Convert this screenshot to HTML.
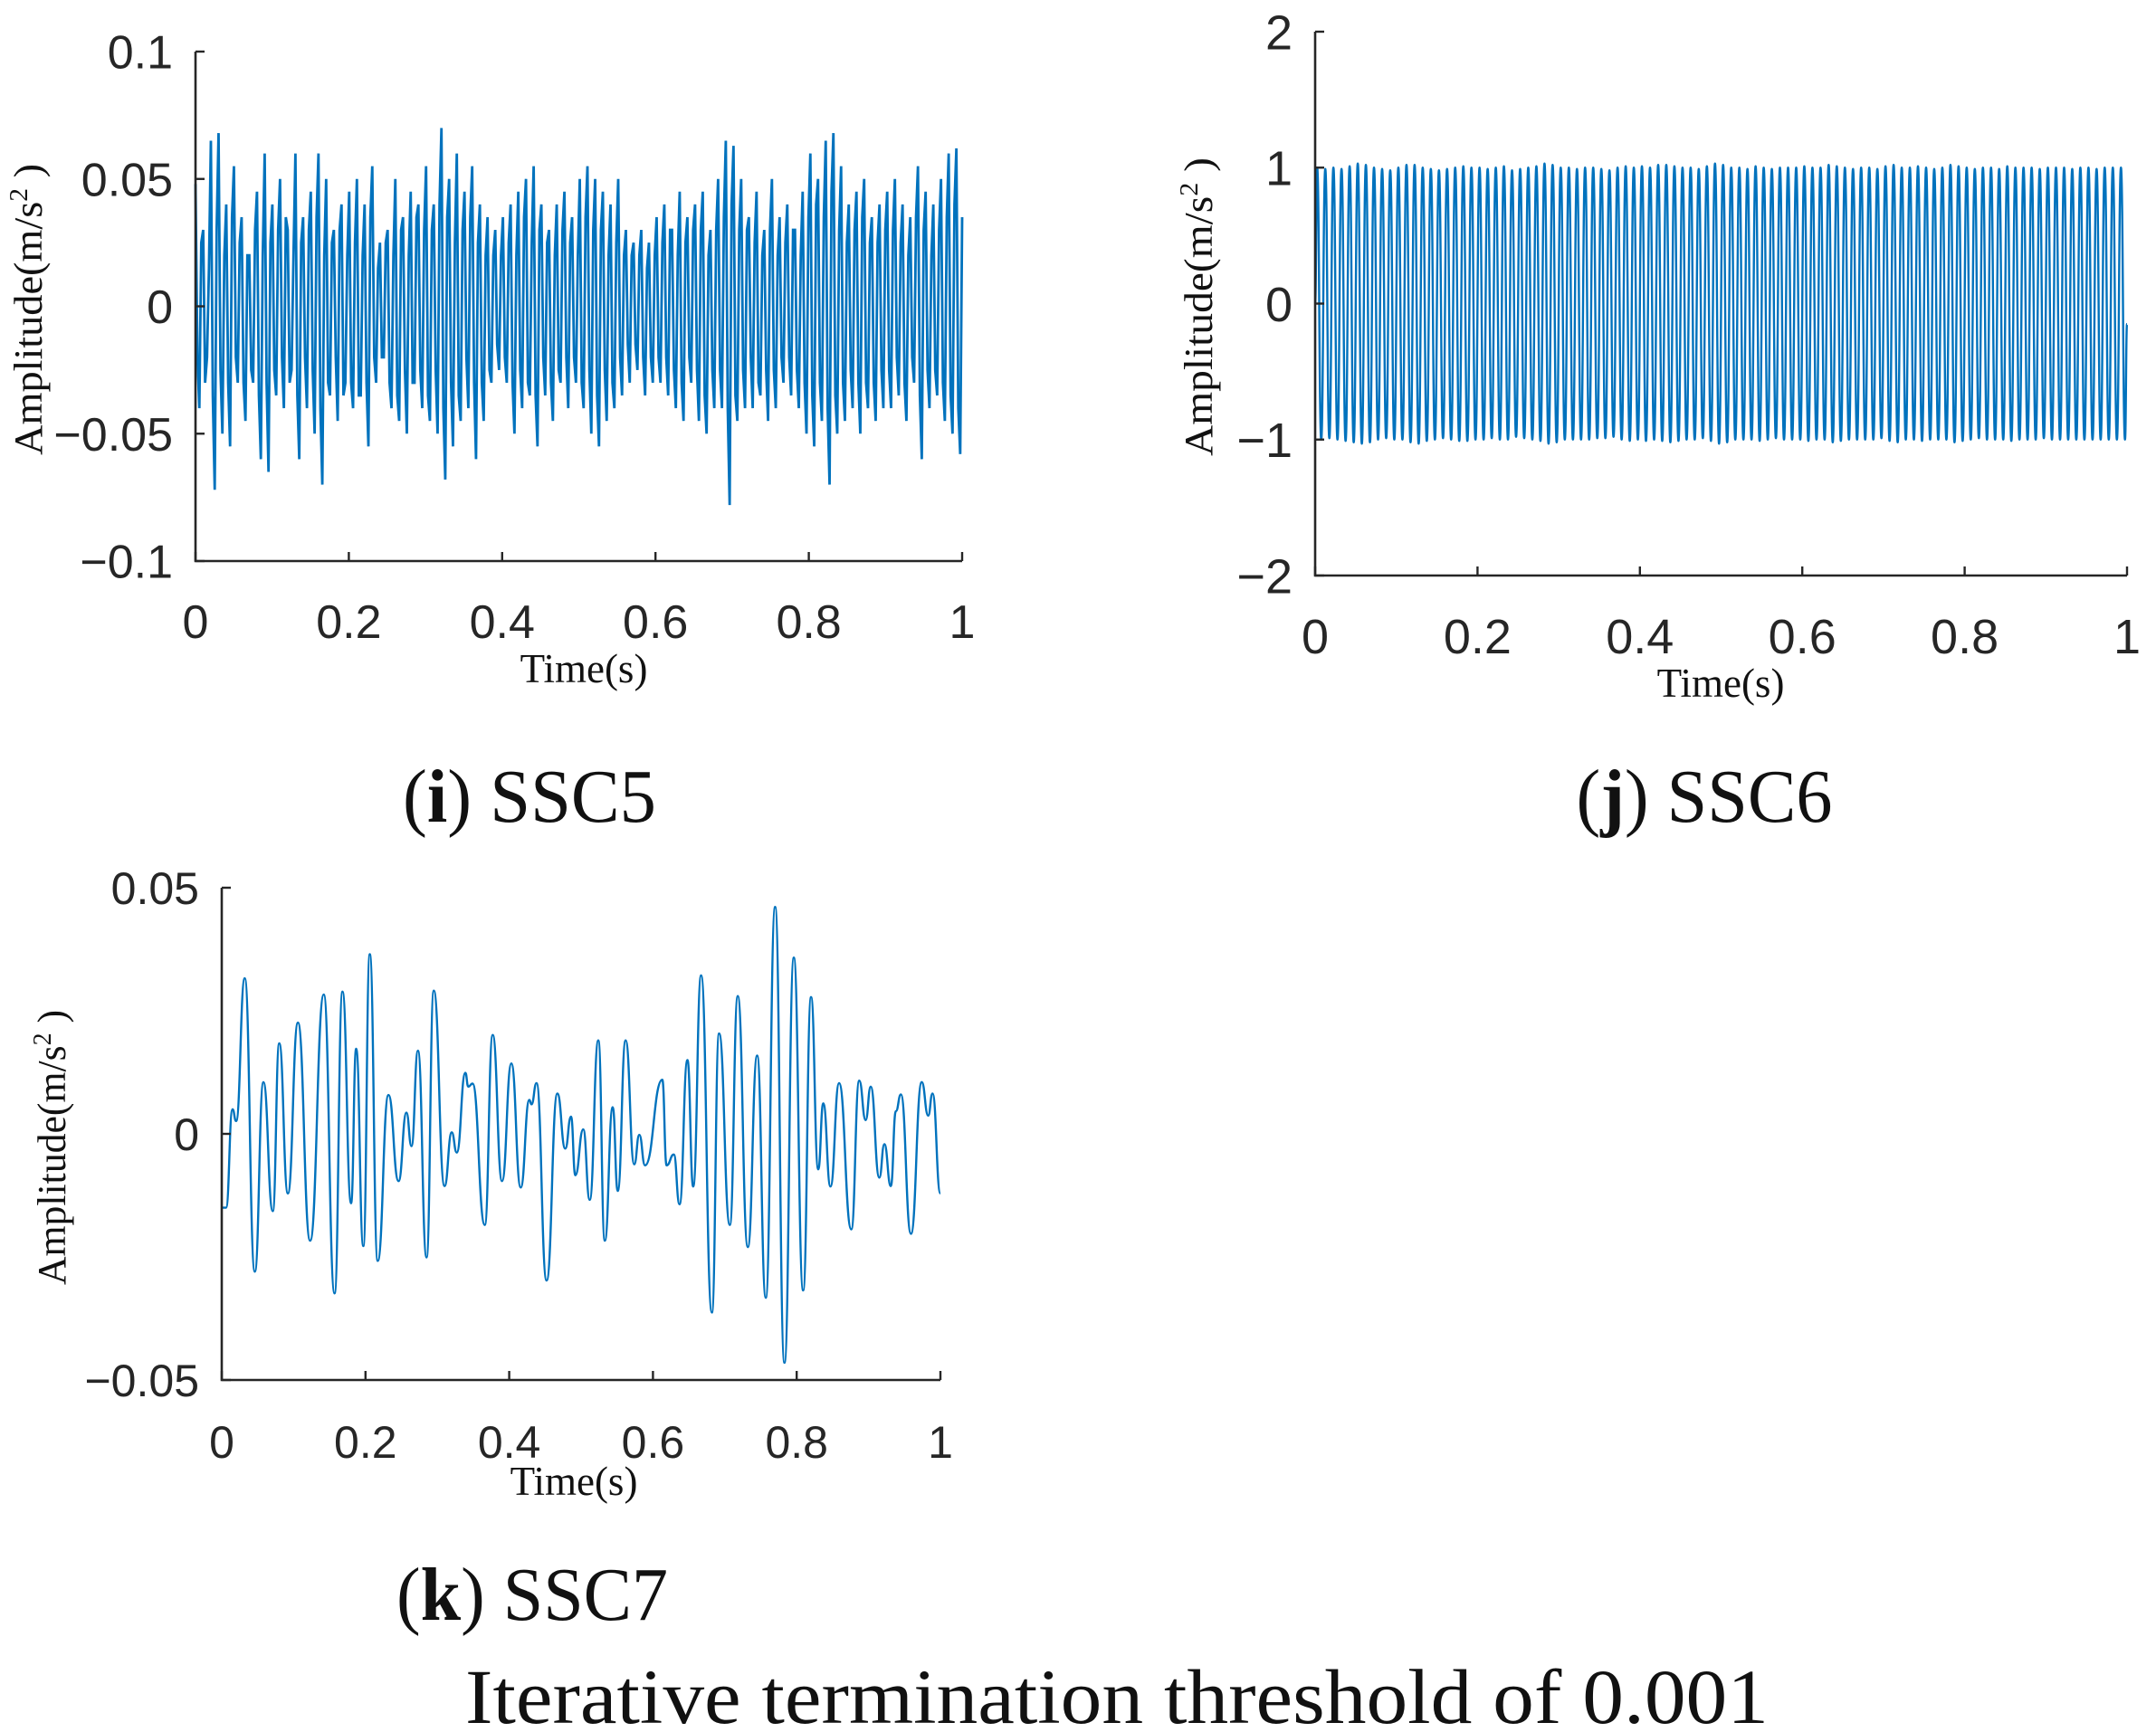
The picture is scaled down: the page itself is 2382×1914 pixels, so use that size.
<!DOCTYPE html>
<html><head><meta charset="utf-8"><style>
html,body{margin:0;padding:0;background:#fff}
svg{display:block}
.tk{font-family:"Liberation Sans",sans-serif;fill:#262626}
.sf{font-family:"Liberation Serif",serif;fill:#111}
</style></head><body>
<svg id="fig" width="2382" height="1914" viewBox="0 0 2382 1914" xmlns="http://www.w3.org/2000/svg">
<rect width="2382" height="1914" fill="#fff"/>
<text class="sf" x="585" y="908" font-size="84" text-anchor="middle" textLength="280" lengthAdjust="spacingAndGlyphs">(<tspan font-weight="bold">i</tspan>) SSC5</text>
<text class="sf" x="1883" y="908" font-size="84" text-anchor="middle" textLength="283" lengthAdjust="spacingAndGlyphs">(<tspan font-weight="bold">j</tspan>) SSC6</text>
<text class="sf" x="588" y="1790" font-size="84" text-anchor="middle" textLength="300" lengthAdjust="spacingAndGlyphs">(<tspan font-weight="bold">k</tspan>) SSC7</text>
<text class="sf" x="1234" y="1904" font-size="86" text-anchor="middle" textLength="1440" lengthAdjust="spacingAndGlyphs">Iterative termination threshold of 0.001</text>
</svg>
<script>
// ---- SSC5 data: major extrema and in-between detail samples (evenly interleaved over 0..1 s) ----
const ssc5Values=[.048,-.04,.03,-.02,.065,-.072,.068,-.05,.04,-.055,.055,-.03,.035,-.045,.02,-.03,.045,-.06,.06,-.065,
.04,-.035,.05,-.04,.03,-.025,.06,-.06,.035,-.04,.045,-.05,.06,-.07,.05,-.035,.03,-.045,.04,-.03,
.045,-.04,.05,-.035,.04,-.055,.055,-.03,.025,-.02,.03,-.04,.05,-.045,.035,-.05,.045,-.03,.04,-.04,
.055,-.045,.04,-.05,.07,-.068,.05,-.055,.06,-.045,.045,-.04,.055,-.06,.04,-.045,.035,-.03,.03,-.025,
.035,-.03,.04,-.05,.045,-.04,.05,-.035,.055,-.055,.04,-.035,.03,-.045,.04,-.03,.045,-.04,.035,-.03,
.05,-.04,.055,-.05,.05,-.055,.045,-.045,.04,-.04,.05,-.035,.03,-.03,.025,-.025,.03,-.035,.025,-.03,
.035,-.03,.04,-.035,.03,-.04,.045,-.045,.035,-.03,.04,-.045,.045,-.05,.03,-.04,.05,-.04,.065,-.078,
.063,-.045,.05,-.04,.035,-.04,.045,-.035,.03,-.045,.05,-.04,.035,-.03,.04,-.035,.03,-.04,.045,-.05,
.06,-.055,.05,-.045,.065,-.07,.068,-.05,.055,-.045,.04,-.04,.045,-.05,.05,-.04,.035,-.045,.04,-.04,
.045,-.04,.05,-.035,.04,-.045,.035,-.03,.055,-.06,.045,-.04,.04,-.035,.05,-.045,.06,-.05,.062,-.058];
const ssc5Detail=[-.02,.025,-.03,.015,-.035,.03,-.025,.02,-.03,.035,-.02,.025,-.03,.02,-.025,.03,-.035,.02,-.03,.025,
-.025,.03,-.02,.035,-.03,.02,-.035,.025,-.02,.03,-.025,.035,-.04,.02,-.03,.025,-.02,.03,-.035,.02,
-.03,.025,-.035,.02,-.03,.035,-.02,.015,-.02,.025,-.03,.02,-.035,.03,-.025,.02,-.03,.035,-.025,.03,
-.035,.03,-.025,.04,-.04,.035,-.03,.025,-.035,.03,-.02,.035,-.03,.025,-.03,.02,-.025,.02,-.015,.02,
-.02,.025,-.03,.02,-.025,.035,-.03,.025,-.035,.03,-.02,.025,-.03,.02,-.025,.03,-.02,.025,-.02,.02,
-.03,.035,-.025,.03,-.035,.03,-.025,.02,-.03,.025,-.02,.02,-.015,.02,-.015,.02,-.02,.015,-.02,.02,
-.02,.025,-.02,.03,-.025,.02,-.03,.025,-.02,.03,-.025,.03,-.035,.02,-.025,.03,-.025,.035,-.04,.04,
-.035,.03,-.025,.03,-.02,.025,-.03,.02,-.025,.03,-.025,.02,-.02,.025,-.02,.03,-.025,.02,-.03,.035,
-.035,.04,-.03,.035,-.04,.045,-.035,.03,-.03,.025,-.025,.03,-.03,.035,-.03,.025,-.03,.025,-.025,.03,
-.025,.03,-.02,.025,-.03,.02,-.02,.035,-.035,.03,-.025,.02,-.025,.03,-.03,.035,-.035,.04,-.04,.035];
const ssc5YTicks=[-0.1,-0.05,0,0.05,0.1];
const ssc5YLabels=["\u22120.1","\u22120.05","0","0.05","0.1"];
// ---- SSC6 data: per-cycle peak and trough amplitudes ----
const ssc6Peaks=[1.0,0.99,1.0,0.99,1.01,1.03,1.02,1.0,0.99,0.98,1.0,1.02,1.02,1.0,0.99,0.98,0.99,1.0,1.01,1.0,
1.0,0.99,1.0,1.01,0.98,0.99,1.0,1.01,1.03,1.02,1.0,1.0,0.99,1.0,1.0,0.99,0.98,1.0,1.01,1.0,
1.01,1.0,1.02,1.02,1.01,1.0,1.0,0.99,1.01,1.03,1.02,1.0,1.0,0.99,1.01,1.0,0.99,1.0,1.0,1.0,
1.01,1.0,1.0,1.02,1.01,1.0,0.99,1.0,1.0,0.99,1.01,1.02,1.0,1.0,1.01,1.0,0.99,1.0,1.02,1.01,
1.0,0.99,1.0,1.0,0.99,1.01,1.0,1.0,1.0,0.99,1.0,1.0,1.0,0.99,1.0,1.0,0.99,1.0,1.0,1.0];
const ssc6Troughs=[-1.0,-0.99,-1.0,-1.01,-1.02,-1.03,-1.02,-1.0,-0.99,-1.0,-1.0,-1.02,-1.03,-1.01,-1.0,-0.99,-1.0,-1.01,-1.01,-1.0,
-1.0,-0.99,-1.0,-1.0,-0.98,-0.99,-1.0,-1.01,-1.03,-1.02,-1.0,-1.0,-1.0,-1.0,-0.99,-0.99,-0.98,-1.0,-1.01,-1.0,
-1.01,-1.0,-1.01,-1.02,-1.01,-1.0,-1.0,-0.99,-1.01,-1.03,-1.02,-1.0,-1.0,-1.0,-1.01,-1.0,-0.99,-1.0,-1.0,-1.0,
-1.01,-1.0,-1.0,-1.02,-1.01,-1.0,-1.0,-1.0,-1.0,-0.99,-1.01,-1.02,-1.0,-1.0,-1.01,-1.0,-1.0,-1.0,-1.02,-1.01,
-1.0,-0.99,-1.0,-1.0,-1.0,-1.01,-1.0,-1.0,-1.0,-0.99,-1.0,-1.0,-1.0,-1.0,-1.0,-1.0,-1.0,-1.0,-1.0,-1.0];
const ssc6YTicks=[-2,-1,0,1,2];
const ssc6YLabels=["\u22122","\u22121","0","1","2"];
// ---- SSC7 data: extrema (time, value) ----
const ssc7Times=[0,.006,.015,.020,.032,.046,.058,.071,.080,.092,.106,.123,.142,.157,.168,.180,.187,.197,.206,.217,.232,.246,.257,.264,.273,.285,.295,.310,.320,.327,.339,.343,.349,.366,.377,.390,.403,.416,.428,.431,.438,.452,.467,.478,.486,.492,.503,.512,.524,.533,.544,.551,.562,.574,.581,.589,.613,.619,.629,.637,.648,.656,.667,.682,.692,.707,.718,.732,.745,.757,.770,.783,.796,.809,.820,.830,.837,.847,.859,.876,.887,.896,.903,.915,.922,.931,.938,.945,.959,.974,.983,.989,1];
const ssc7Values=[-.015,-.015,.005,.0026,.0316,-.028,.0105,-.0157,.0184,-.0121,.0226,-.0217,.0283,-.0324,.0289,-.0141,.0173,-.0228,.0365,-.0258,.0079,-.0096,.0043,-.0025,.0169,-.0251,.0291,-.0106,.0003,-.0038,.0124,.0096,.0102,-.0185,.0201,-.0096,.0143,-.0109,.0069,.006,.0103,-.0298,.0082,-.003,.0035,-.0084,.0009,-.0134,.019,-.0217,.0054,-.0116,.019,-.0062,-.0002,-.0064,.011,-.0064,-.0042,-.0143,.015,-.0107,.0322,-.0363,.0204,-.0185,.028,-.023,.0159,-.0333,.0461,-.0465,.0358,-.0318,.0278,-.0072,.0062,-.0107,.0103,-.0194,.0108,.0028,.0096,-.0089,-.0021,-.0106,.0046,.008,-.0203,.0105,.0037,.0082,-.0121];
const ssc7YTicks=[-0.05,0,0.05];
const ssc7YLabels=["\u22120.05","0","0.05"];
const xTicks=[0,0.2,0.4,0.6,0.8,1];
const xLabels=["0","0.2","0.4","0.6","0.8","1"];

const NS="http://www.w3.org/2000/svg";
const svg=document.getElementById('fig');
const BLUE="#0072BD";
function mk(tag,attrs,parent){const e=document.createElementNS(NS,tag);for(const k in attrs)e.setAttribute(k,attrs[k]);(parent||svg).appendChild(e);return e;}

function axes(cfg){
  const g=mk('g',{});
  
  
  const xs=t=>cfg.L+(t-0)/(1-0)*(cfg.R-cfg.L);
  const ys=v=>cfg.B-(v-cfg.ymin)/(cfg.ymax-cfg.ymin)*(cfg.B-cfg.T);
  cfg.xs=xs;cfg.ys=ys;cfg.g=g;
  return cfg;
}
function frame(cfg){
  const g=cfg.g,xs=cfg.xs,ys=cfg.ys;
  const ax=mk('path',{d:`M${cfg.L} ${cfg.T}V${cfg.B}H${cfg.R}`,fill:'none',stroke:'#262626','stroke-width':2.6},g);
  
  
  xTicks.forEach((t,i)=>{
    const x=xs(t);
    const tk=mk('line',{x1:x,x2:x,y1:cfg.B,y2:cfg.B-10,stroke:'#262626','stroke-width':2.4},g);
    
    
    const lb=mk('text',{x:x,y:cfg.xly,'text-anchor':'middle','font-size':cfg.fs,class:'tk'},g);
    
    
    lb.textContent=xLabels[i];
  });
  cfg.yt.forEach((v,i)=>{
    const y=ys(v);
    const tk=mk('line',{x1:cfg.L,x2:cfg.L+10,y1:y,y2:y,stroke:'#262626','stroke-width':2.4},g);
    
    
    const lb=mk('text',{x:cfg.L-25,y:y+cfg.fs*0.36,'text-anchor':'end','font-size':cfg.fs,class:'tk'},g);
    
    
    lb.textContent=cfg.yl[i];
  });
  const xt=mk('text',{x:cfg.xtx,y:cfg.xty,'text-anchor':'middle','font-size':45,class:'sf'},g);
  
  
  xt.textContent='Time(s)';
  const yt=mk('text',{x:0,y:0,'text-anchor':'middle','font-size':44,class:'sf',textLength:cfg.ylen,lengthAdjust:'spacingAndGlyphs',transform:`translate(${cfg.ytx} ${cfg.yty}) rotate(-90)`},g);
  
  
  yt.innerHTML='Amplitude(m/s<tspan font-size="28" dy="-16">2</tspan><tspan dy="16"> )</tspan>';
}
function smoothPath(ts,vs,xs,ys){
  let d=`M${xs(ts[0]).toFixed(2)} ${ys(vs[0]).toFixed(2)}`;
  for(let i=1;i<ts.length;i++){
    const x0=xs(ts[i-1]),y0=ys(vs[i-1]),x1=xs(ts[i]),y1=ys(vs[i]);
    const xm=(x0+x1)/2;
    d+=`C${xm.toFixed(2)} ${y0.toFixed(2)} ${xm.toFixed(2)} ${y1.toFixed(2)} ${x1.toFixed(2)} ${y1.toFixed(2)}`;
  }
  return d;
}

// Plot 1: SSC5
const p1=axes({name:'plot-ssc5',L:216,R:1063,T:57,B:620,ymin:-0.1,ymax:0.1,yt:ssc5YTicks,yl:ssc5YLabels,fs:52,xly:705,xtx:645,xty:754,ytx:46,yty:342,ylen:322});
{
  const seq=[];
  ssc5Values.forEach((v,i)=>{seq.push(v);if(i<ssc5Detail.length)seq.push(ssc5Detail[i]);});
  const n=seq.length;
  let d='';
  seq.forEach((v,i)=>{const x=p1.xs(i/(n-1)),y=p1.ys(v);d+=(i?'L':'M')+x.toFixed(2)+' '+y.toFixed(2);});
  const s=mk('path',{d:d,fill:'none',stroke:BLUE,'stroke-width':2.8,'stroke-linejoin':'miter'},p1.g);
  
  
  frame(p1);
}
// Plot 2: SSC6
const p2=axes({name:'plot-ssc6',L:1453,R:2350,T:35,B:636,ymin:-2,ymax:2,yt:ssc6YTicks,yl:ssc6YLabels,fs:54,xly:722,xtx:1901,xty:770,ytx:1339,yty:339,ylen:330});
{
  const n=ssc6Peaks.length;const ts=[0],vs=[0];
  for(let i=0;i<n;i++){ts.push((i+0.25)/n);vs.push(ssc6Peaks[i]);ts.push((i+0.75)/n);vs.push(ssc6Troughs[i]);}
  ts.push(1);vs.push(-0.15);
  const s=mk('path',{d:smoothPath(ts,vs,p2.xs,p2.ys),fill:'none',stroke:BLUE,'stroke-width':2.4},p2.g);
  
  
  frame(p2);
}
// Plot 3: SSC7
const p3=axes({name:'plot-ssc7',L:245,R:1039,T:981,B:1525,ymin:-0.05,ymax:0.05,yt:ssc7YTicks,yl:ssc7YLabels,fs:50,xly:1611,xtx:634,xty:1652,ytx:72,yty:1268,ylen:304});
{
  const s=mk('path',{d:smoothPath(ssc7Times,ssc7Values,p3.xs,p3.ys),fill:'none',stroke:BLUE,'stroke-width':2.4},p3.g);
  
  
  frame(p3);
}
</script>
</body></html>
